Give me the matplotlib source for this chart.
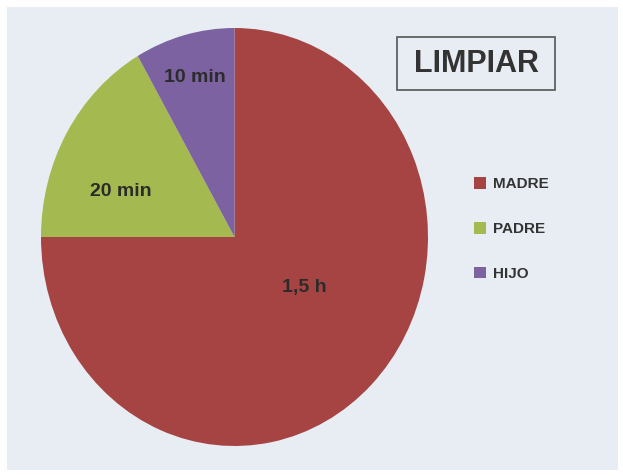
import numpy as np
import matplotlib
matplotlib.use("Agg")
import matplotlib.pyplot as plt
from matplotlib.patches import Rectangle

# datos
personas = ["MADRE", "PADRE", "HIJO"]
minutos = [90, 20, 10]
etiquetas = ["1,5 h", "20 min", "10 min"]
colores = ["#a54443", "#a4b94f", "#7c62a0"]
dist_etiqueta = [0.43, 0.63, 0.80]
giro_etiqueta = [12, 9, 0]   # grados, desplazamiento desde el centro de la porcion

plt.rcParams['font.family'] = ['Liberation Sans', 'DejaVu Sans']

fig = plt.figure(figsize=(6.23, 4.76), dpi=100)
fig.patch.set_facecolor("white")

# fondo de la diapositiva
bg = fig.add_axes([0, 0, 1, 1])
bg.set_xlim(0, 623)
bg.set_ylim(476, 0)
bg.axis("off")
bg.add_patch(Rectangle((7, 7), 611, 463, facecolor="#e8edf3", edgecolor="none"))
# caja del titulo
bg.add_patch(Rectangle((397, 37), 158, 53, facecolor="none",
                       edgecolor="#555555", linewidth=1.2))
bg.text(476, 64, "LIMPIAR", ha="center", va="center",
        fontsize=22, fontweight="bold", color="#333333")

# tarta (un poco mas alta que ancha, como en la foto)
ax = fig.add_axes([41 / 623, (476 - 446) / 476, 387 / 623, 418 / 476])
wedges, _ = ax.pie(minutos, colors=colores, startangle=90, counterclock=False,
                   radius=1.0, wedgeprops=dict(linewidth=0))
ax.set_aspect("auto")
ax.set_xlim(-1, 1)
ax.set_ylim(-1, 1)
ax.axis("off")

for w, txt, d, g in zip(wedges, etiquetas, dist_etiqueta, giro_etiqueta):
    ang = np.deg2rad((w.theta1 + w.theta2) / 2 + g)
    ax.text(d * np.cos(ang), d * np.sin(ang), txt, ha="center",
            va="center_baseline", fontsize=14, fontweight="bold", color="#2b2b2b")

# leyenda
leg = fig.legend(wedges, personas, loc="center left",
                 bbox_to_anchor=(466 / 623, 1 - 229 / 476),
                 frameon=False, handlelength=0.8, handleheight=0.8,
                 handletextpad=0.45, labelspacing=2.0, borderpad=0,
                 prop=dict(size=11, weight="bold"))
for t in leg.get_texts():
    t.set_color("#333333")

plt.savefig("out.png", dpi=100, facecolor=fig.get_facecolor())
